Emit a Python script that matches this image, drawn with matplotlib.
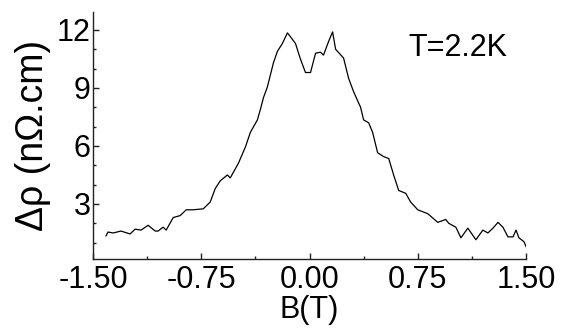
import matplotlib
matplotlib.use("Agg")
import matplotlib.pyplot as plt
from matplotlib.ticker import MultipleLocator, FormatStrFormatter

plt.rcParams['font.family'] = ['Liberation Sans', 'DejaVu Sans']

B = [-1.410, -1.396, -1.361, -1.306, -1.243, -1.208, -1.167, -1.118, -1.069, -1.049,
     -1.014, -0.993, -0.944, -0.896, -0.854, -0.806, -0.736, -0.688, -0.653, -0.618,
     -0.569, -0.549, -0.493, -0.444, -0.410, -0.361, -0.340, -0.319, -0.292, -0.250,
     -0.222, -0.188, -0.153, -0.132, -0.097, -0.063, -0.028, 0.007, 0.042, 0.076,
     0.097, 0.132, 0.160, 0.181, 0.236, 0.271, 0.306, 0.354, 0.375, 0.410,
     0.4375, 0.472, 0.514, 0.549, 0.583, 0.618, 0.667, 0.701, 0.750, 0.819,
     0.889, 0.944, 0.965, 1.014, 1.049, 1.097, 1.153, 1.201, 1.236, 1.271,
     1.306, 1.340, 1.375, 1.410, 1.431, 1.451, 1.486, 1.500]
drho = [1.35, 1.55, 1.50, 1.60, 1.45, 1.70, 1.65, 1.90, 1.60, 1.60,
        1.80, 1.65, 2.30, 2.40, 2.70, 2.70, 2.75, 3.10, 3.80, 4.20,
        4.50, 4.35, 5.10, 5.95, 6.70, 7.35, 7.90, 8.50, 9.05, 10.30,
        10.90, 11.30, 11.85, 11.65, 11.30, 10.50, 9.80, 9.80, 10.80, 10.85,
        10.70, 11.40, 11.90, 11.00, 10.55, 9.50, 8.80, 8.00, 7.35, 7.20,
        6.70, 5.65, 5.45, 5.35, 4.50, 3.70, 3.55, 3.10, 2.70, 2.50,
        2.05, 2.20, 2.00, 1.80, 1.25, 1.75, 1.15, 1.65, 1.50, 1.75,
        2.05, 1.80, 1.30, 1.30, 1.65, 1.25, 1.05, 0.80]

xticks = [-1.50, -0.75, 0.00, 0.75, 1.50]
yticks = [3, 6, 9, 12]
annotation = "T=2.2K"

fig = plt.figure(figsize=(5.63, 3.29), dpi=100)
ax = fig.add_axes([93/563, 1-259/329, (526-93)/563, (259-12)/329])
ax.plot(B, drho, color='black', lw=0.9)

ax.set_xlim(-1.5, 1.5)
ax.set_ylim(0.155, 12.93)
ax.set_xticks(xticks)
ax.set_yticks(yticks)
ax.xaxis.set_major_formatter(FormatStrFormatter('%.2f'))
ax.xaxis.set_minor_locator(MultipleLocator(0.375))
ax.yaxis.set_minor_locator(MultipleLocator(1))
for s in ['top', 'right']:
    ax.spines[s].set_visible(False)
for s in ['left', 'bottom']:
    ax.spines[s].set_linewidth(1.0)
    ax.spines[s].set_color('#222222')
ax.tick_params(which='major', direction='in', length=4, width=1, labelsize=22, color='#222222')
ax.tick_params(which='minor', direction='in', length=2.5, width=1, color='#222222')
ax.tick_params(axis='x', which='major', pad=4)
ax.tick_params(axis='y', which='major', pad=1.5)

ax.set_xlabel('B(T)', fontsize=22, labelpad=0)
ax.set_ylabel('Δρ (nΩ.cm)', fontsize=27, labelpad=4)
ax.text(1.028, 11.07, annotation, fontsize=22, ha='center', va='center')

fig.savefig('out.png', dpi=100)
